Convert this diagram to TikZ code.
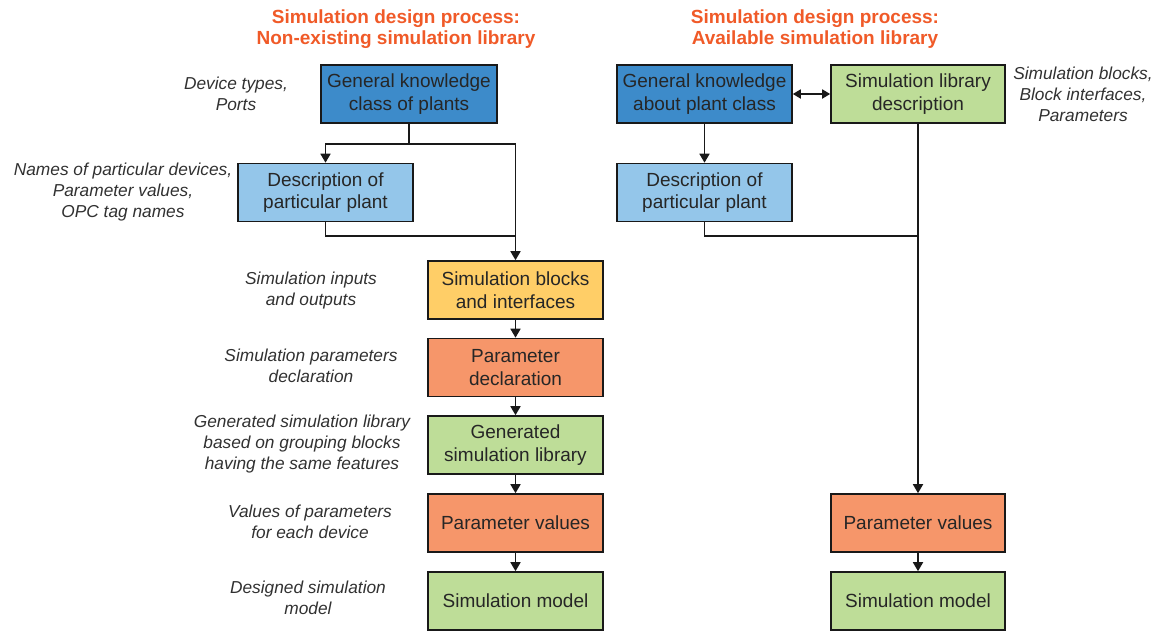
\documentclass[tikz,border=0pt]{standalone}
\usepackage{fontspec}
\setmainfont{Liberation Sans}
\usetikzlibrary{arrows.meta}
\definecolor{darkblue}{HTML}{3D8BCA}
\definecolor{lightblue}{HTML}{94C6EA}
\definecolor{sunyellow}{HTML}{FFCE67}
\definecolor{salmon}{HTML}{F6966A}
\definecolor{leafgreen}{HTML}{BEDD98}
\definecolor{titlered}{HTML}{F05A28}
\definecolor{inkgray}{HTML}{262626}
\tikzset{
  box/.style={draw=black!90, line width=1.6pt, minimum width=175pt, minimum height=58pt,
    inner sep=0pt, align=center, text=inkgray,
    font=\fontsize{19}{22.5}\selectfont},
  note/.style={align=center, text=inkgray!95, inner sep=0pt,
    font=\fontsize{17.3}{21}\selectfont\itshape},
  heading/.style={align=center, text=titlered, inner sep=0pt,
    font=\fontsize{19}{21.5}\selectfont\bfseries},
  link/.style={line width=1.7pt, draw=black!90},
  arr/.style={link, -{Triangle[width=10pt,length=9pt]}},
  darr/.style={link, {Triangle[width=9pt,length=8pt]}-{Triangle[width=9pt,length=8pt]}}
}
\begin{document}
\begin{tikzpicture}[x=1pt, y=-1pt]
\useasboundingbox (0,0) rectangle (1159,630);

% headings
\node[heading] (t1) at (396,29) {Simulation design process:\\Non-existing simulation library};
\node[heading] (t2) at (815,29) {Simulation design process:\\Available simulation library};

% left flow
\node[box, fill=darkblue, minimum width=176pt] (A) at (409,94) {General knowledge\\class of plants};
\node[box, fill=lightblue] (B) at (325.5,192.5) {Description of\\particular plant};
\node[box, fill=sunyellow] (C) at (515.5,290) {Simulation blocks\\and interfaces};
\node[box, fill=salmon] (D) at (515.5,367.5) {Parameter\\declaration};
\node[box, fill=leafgreen] (E) at (515.5,445) {Generated\\simulation library};
\node[box, fill=salmon] (F) at (515.5,523) {Parameter values};
\node[box, fill=leafgreen] (G) at (515.5,601) {Simulation model};

% right flow
\node[box, fill=darkblue] (H) at (704.5,94) {General knowledge\\about plant class};
\node[box, fill=leafgreen, minimum width=174pt] (I) at (918,94) {Simulation library\\description};
\node[box, fill=lightblue] (J) at (704.5,192.5) {Description of\\particular plant};
\node[box, fill=salmon, minimum width=174pt] (K) at (918,523) {Parameter values};
\node[box, fill=leafgreen, minimum width=174pt] (L) at (918,601) {Simulation model};

% side notes
\node[note] (nA) at (236,94) {Device types,\\Ports};
\node[note] (nB) at (123,192) {Names of particular devices,\\Parameter values,\\OPC tag names};
\node[note] (nC) at (311,291) {Simulation inputs\\and outputs};
\node[note] (nD) at (311,366) {Simulation parameters\\declaration};
\node[note] (nE) at (302,444) {Generated simulation library\\based on grouping blocks\\having the same features};
\node[note] (nF) at (310,522) {Values of parameters\\for each device};
\node[note] (nG) at (308,598) {Designed simulation\\model};
\node[note] (nI) at (1083,94) {Simulation blocks,\\Block interfaces,\\Parameters};

% left connectors
\coordinate (s1) at (409,144);
\coordinate (j1) at (515.5,236);
\draw[link] (A.south) -- (s1);
\draw[arr] (s1) -| (B.north);
\draw[arr] (s1) -| (C.north);
\draw[link] (B.south) |- (j1);
\draw[arr] (C) -- (D);
\draw[arr] (D) -- (E);
\draw[arr] (E) -- (F);
\draw[arr] (F) -- (G);

% right connectors
\coordinate (j2) at (918,236);
\draw[darr] (H.east) -- (I.west);
\draw[arr] (H) -- (J);
\draw[arr] (I) -- (K);
\draw[link] (J.south) |- (j2);
\draw[arr] (K) -- (L);
\end{tikzpicture}
\end{document}
